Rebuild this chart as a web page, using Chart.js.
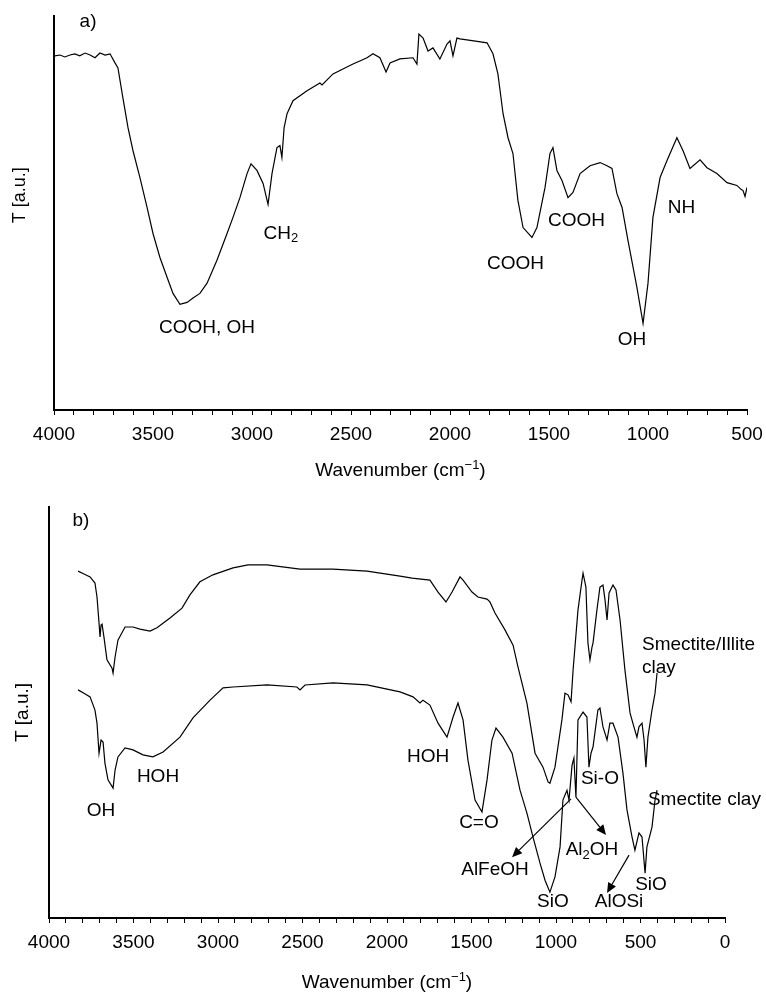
<!DOCTYPE html>
<html lang="en">
<head>
<meta charset="UTF-8">
<title>FTIR spectra</title>
<script src="https://cdn.jsdelivr.net/npm/chart.js@4.4.1/dist/chart.umd.min.js"></script>
<style>
    body { margin: 0; background: #fff; }
    .box { position: relative; width: 766px; }
    #boxA { height: 480px; }
    #boxB { height: 515px; }
</style>
</head>
<body>
<div class="box" id="boxA"><canvas id="chartA"></canvas></div>
<div class="box" id="boxB"><canvas id="chartB"></canvas></div>
<script>
// ---- panel a) ----
var aWavenumber = [3995, 3970, 3945, 3919, 3895, 3870, 3843, 3818, 3793, 3768,
    3742, 3717, 3692, 3677, 3652, 3626, 3601, 3566, 3530, 3500,
    3465, 3429, 3399, 3364, 3328, 3298, 3263, 3227, 3177, 3126,
    3096, 3061, 3025, 3005, 2975, 2944, 2919, 2899, 2874, 2859,
    2849, 2838, 2823, 2793, 2722, 2657, 2646, 2591, 2490, 2419,
    2389, 2354, 2323, 2303, 2253, 2187, 2167, 2157, 2136, 2111,
    2086, 2051, 2015, 2000, 1985, 1965, 1950, 1880, 1813, 1783,
    1758, 1732, 1707, 1682, 1657, 1631, 1586, 1561, 1520, 1495,
    1480, 1460, 1434, 1404, 1379, 1343, 1293, 1242, 1207, 1182,
    1157, 1131, 1101, 1056, 1025, 1000, 975, 939, 904, 854,
    823, 788, 737, 702, 652, 601, 551, 530, 520, 510,
    500];
var aTransmittance = [89.9, 90.1, 89.6, 90.1, 90.4, 89.9, 90.6, 90.1, 89.4, 90.6,
    90.1, 90.4, 88.1, 86.8, 79.2, 71.6, 65.8, 59.0, 51.4, 44.8,
    38.7, 33.7, 29.6, 26.8, 27.3, 28.4, 29.6, 32.2, 38.0, 44.8,
    48.9, 53.9, 60.0, 62.5, 60.8, 57.5, 52.2, 60.0, 66.6, 67.1,
    64.1, 71.6, 75.2, 78.5, 81.0, 83.0, 82.5, 85.3, 87.8, 89.4,
    90.4, 89.4, 85.8, 88.1, 89.1, 89.4, 87.8, 95.4, 94.4, 91.1,
    91.9, 89.1, 92.9, 93.7, 89.9, 94.4, 94.2, 93.7, 93.2, 90.4,
    85.3, 75.2, 69.1, 65.1, 53.2, 46.3, 43.8, 46.3, 56.5, 65.1,
    66.6, 60.8, 58.2, 53.9, 55.2, 60.0, 62.0, 62.8, 62.0, 61.3,
    54.9, 51.4, 43.0, 31.1, 22.0, 32.2, 48.9, 59.0, 63.3, 69.1,
    65.8, 61.3, 63.5, 61.5, 60.0, 57.7, 57.0, 56.0, 55.7, 54.2,
    56.5];

// ---- panel b) ----
var bUpperWn = [3828, 3793, 3757, 3728, 3716, 3704, 3698, 3692, 3686, 3675,
    3657, 3627, 3621, 3609, 3592, 3550, 3503, 3462, 3402, 3361,
    3284, 3213, 3166, 3107, 3030, 2911, 2822, 2710, 2515, 2320,
    2118, 1923, 1852, 1746, 1698, 1651, 1615, 1568, 1550, 1497,
    1462, 1408, 1391, 1361, 1302, 1254, 1225, 1172, 1124, 1077,
    1047, 1036, 1006, 965, 947, 929, 911, 899, 870, 846,
    840, 823, 811, 799, 787, 781, 758, 740, 722, 710,
    698, 686, 663, 645, 621, 592, 562, 539, 521, 509,
    491, 479, 468, 456, 432, 414, 402];
var bUpperT = [84.4, 83.7, 83.0, 81.5, 78.1, 71.8, 68.4, 71.3, 71.5, 68.4,
    62.8, 60.8, 59.6, 63.5, 67.6, 70.8, 70.8, 70.3, 69.8, 70.6,
    73.0, 75.4, 78.6, 81.8, 83.5, 85.2, 85.9, 85.9, 84.9, 84.9,
    84.4, 83.2, 82.7, 82.2, 79.3, 76.9, 79.3, 83.0, 82.2, 79.3,
    78.1, 77.6, 76.9, 74.2, 70.1, 66.4, 61.1, 52.3, 40.1, 36.7,
    33.1, 32.8, 36.7, 48.2, 54.7, 54.3, 52.6, 60.3, 74.9, 82.2,
    83.9, 80.5, 66.9, 62.8, 65.9, 66.9, 74.9, 80.5, 81.0, 77.4,
    72.5, 79.1, 81.0, 79.8, 72.5, 60.3, 49.9, 46.5, 44.0, 46.5,
    47.4, 43.3, 36.7, 44.0, 50.6, 54.7, 59.6];
var bLowerWn = [3828, 3793, 3757, 3728, 3716, 3704, 3692, 3680, 3669, 3651,
    3621, 3609, 3592, 3550, 3503, 3444, 3385, 3325, 3225, 3148,
    3047, 2970, 2911, 2710, 2533, 2515, 2485, 2320, 2118, 1923,
    1846, 1805, 1787, 1746, 1698, 1645, 1609, 1580, 1550, 1521,
    1479, 1438, 1408, 1379, 1355, 1314, 1260, 1213, 1172, 1136,
    1095, 1065, 1036, 1006, 976, 959, 935, 923, 905, 894,
    882, 870, 840, 817, 805, 793, 781, 752, 740, 722,
    698, 681, 663, 633, 604, 580, 550, 533, 509, 491,
    473, 462, 432, 414, 402];
var bLowerT = [55.5, 54.7, 53.8, 50.6, 47.4, 40.1, 43.3, 42.8, 37.7, 33.6,
    31.6, 36.0, 39.2, 41.4, 40.9, 39.7, 39.2, 40.4, 44.0, 48.7,
    53.0, 56.0, 56.2, 56.7, 56.2, 55.5, 56.7, 57.2, 56.7, 55.0,
    53.8, 52.3, 53.0, 51.8, 47.4, 44.0, 48.9, 52.3, 48.2, 38.4,
    28.7, 25.8, 33.6, 43.3, 46.2, 44.0, 40.1, 31.1, 25.5, 19.7,
    13.4, 9.2, 6.3, 10.0, 17.3, 28.7, 31.1, 28.7, 37.2, 38.9,
    29.4, 48.2, 50.1, 48.9, 36.7, 40.1, 41.6, 50.6, 51.1, 46.5,
    43.3, 47.4, 47.4, 44.0, 35.3, 26.3, 19.7, 16.5, 20.7, 19.7,
    10.9, 17.3, 22.1, 28.7, 31.1];

// peak labels, placed at (wavenumber, T)
var aLabels = [
    {text: 'a)', wn: 3828, t: 98.5},
    {text: 'COOH, OH', wn: 3227, t: 20.8},
    {text: 'CH_2', wn: 2854, t: 44.8},
    {text: 'COOH', wn: 1669, t: 37.0},
    {text: 'COOH', wn: 1361, t: 48.1},
    {text: 'NH', wn: 831, t: 51.4},
    {text: 'OH', wn: 1081, t: 17.7}
];
var bLabels = [
    {text: 'b)', wn: 3811, t: 96.6},
    {text: 'OH', wn: 3692, t: 26.0},
    {text: 'HOH', wn: 3355, t: 34.3},
    {text: 'HOH', wn: 1757, t: 39.2},
    {text: 'C=O', wn: 1456, t: 23.1},
    {text: 'AlFeOH', wn: 1361, t: 11.7},
    {text: 'SiO', wn: 1018, t: 3.9},
    {text: 'Si-O', wn: 740, t: 33.8},
    {text: 'Al_2OH', wn: 787, t: 16.5},
    {text: 'AlOSi', wn: 627, t: 3.9},
    {text: 'SiO', wn: 438, t: 8.0},
    {text: 'Smectite/Illite', wn: 491, t: 66.4, align: 'left'},
    {text: 'clay', wn: 491, t: 61.0, align: 'left'},
    {text: 'Smectite clay', wn: 456, t: 28.7, align: 'left'}
];
// arrows: [fromWn, fromT, toWn, toT]
var bArrows = [
    [911, 29.0, 1260, 14.8],
    [882, 29.4, 704, 20.2],
    [568, 15.3, 698, 6.1]
];

var FONT = '"Liberation Sans", Arial, sans-serif';
var xTitle = [{t: 'Wavenumber (cm'}, {t: '\u22121', sup: true}, {t: ')'}];

// turn 'Al_2OH' into segments with subscripts
function parseText(s) {
    var segs = [], buf = '';
    for (var i = 0; i < s.length; i++) {
        if (s[i] === '_' && i + 1 < s.length) {
            if (buf) segs.push({t: buf});
            segs.push({t: s[i + 1], sub: true});
            buf = '';
            i++;
        } else {
            buf += s[i];
        }
    }
    if (buf) segs.push({t: buf});
    return segs;
}

function drawRich(ctx, segs, x, y, align) {
    var total = 0;
    segs.forEach(function(s) {
        ctx.font = (s.sub || s.sup ? 13 : 19) + 'px ' + FONT;
        s.w = ctx.measureText(s.t).width;
        total += s.w;
    });
    var cx = align === 'left' ? x : x - total / 2;
    ctx.textAlign = 'left';
    ctx.textBaseline = 'middle';
    segs.forEach(function(s) {
        ctx.font = (s.sub || s.sup ? 13 : 19) + 'px ' + FONT;
        var dy = s.sub ? 5 : (s.sup ? -6 : 0);
        ctx.fillText(s.t, cx, y + dy);
        cx += s.w;
    });
}

function drawArrow(ctx, x1, y1, x2, y2) {
    var ang = Math.atan2(y2 - y1, x2 - x1);
    var len = 10, half = 4.5;
    var bx = x2 - len * Math.cos(ang), by = y2 - len * Math.sin(ang);
    ctx.beginPath();
    ctx.moveTo(x1, y1);
    ctx.lineTo(bx, by);
    ctx.stroke();
    ctx.beginPath();
    ctx.moveTo(x2, y2);
    ctx.lineTo(bx - half * Math.sin(ang), by + half * Math.cos(ang));
    ctx.lineTo(bx + half * Math.sin(ang), by - half * Math.cos(ang));
    ctx.closePath();
    ctx.fill();
}

var annotate = {
    id: 'annotate',
    afterDraw: function(chart, args, opts) {
        var ctx = chart.ctx, xs = chart.scales.x, ys = chart.scales.y, area = chart.chartArea;
        ctx.save();
        ctx.fillStyle = '#000';
        ctx.strokeStyle = '#000';
        ctx.lineWidth = 1.2;
        (opts.labels || []).forEach(function(l) {
            drawRich(ctx, parseText(l.text), xs.getPixelForValue(l.wn), ys.getPixelForValue(l.t), l.align);
        });
        (opts.arrows || []).forEach(function(a) {
            drawArrow(ctx, xs.getPixelForValue(a[0]), ys.getPixelForValue(a[1]),
                xs.getPixelForValue(a[2]), ys.getPixelForValue(a[3]));
        });
        drawRich(ctx, xTitle, (area.left + area.right) / 2, area.bottom + opts.titleGap, 'center');
        // vertical axis title
        ctx.translate(opts.yTitleX, area.top + (area.bottom - area.top) * opts.yTitlePos);
        ctx.rotate(-Math.PI / 2);
        ctx.font = opts.yTitleSize + 'px ' + FONT;
        ctx.textAlign = 'center';
        ctx.textBaseline = 'middle';
        ctx.fillText('T [a.u.]', 0, 0);
        ctx.restore();
    }
};

function toPoints(xs, ys) {
    return xs.map(function(w, i) { return {x: w, y: ys[i]}; });
}

function makeChart(id, series, cfg) {
    return new Chart(document.getElementById(id), {
        type: 'line',
        data: {
            datasets: series.map(function(d) {
                return {
                    data: d,
                    borderColor: '#000',
                    borderWidth: 1.2,
                    pointRadius: 0,
                    fill: false,
                    tension: 0
                };
            })
        },
        options: {
            responsive: true,
            maintainAspectRatio: false,
            animation: false,
            layout: {padding: {top: cfg.top, right: cfg.right, bottom: 0, left: 0}},
            plugins: {
                legend: {display: false},
                tooltip: {enabled: false},
                annotate: {
                    labels: cfg.labels, arrows: cfg.arrows, titleGap: cfg.titleGap,
                    yTitleX: cfg.yTitleX, yTitlePos: cfg.yTitlePos, yTitleSize: cfg.yTitleSize
                }
            },
            scales: {
                x: {
                    type: 'linear',
                    reverse: true,
                    min: cfg.min,
                    max: 4000,
                    afterFit: function(s) {
                        s.height = cfg.xHeight;
                        s.paddingLeft = 0;
                        s.paddingRight = 0;
                    },
                    grid: {display: true, drawOnChartArea: false, drawTicks: true, tickLength: 5, color: '#000', lineWidth: 1},
                    border: {display: true, color: '#000', width: 2},
                    ticks: {
                        stepSize: 100,
                        autoSkip: false,
                        maxRotation: 0,
                        padding: 8,
                        color: '#000',
                        font: {family: FONT, size: 19},
                        callback: function(v) { return v % 500 === 0 ? String(v) : ''; }
                    }
                },
                y: {
                    min: 0,
                    max: 100,
                    afterFit: function(s) { s.width = cfg.left; },
                    grid: {display: false},
                    border: {display: true, color: '#000', width: 2},
                    ticks: {display: false}
                }
            }
        },
        plugins: [annotate]
    });
}

makeChart('chartA', [toPoints(aWavenumber, aTransmittance)], {
    min: 500, top: 16, right: 19, left: 54, xHeight: 70, titleGap: 61,
    yTitleX: 20, yTitlePos: 0.455, yTitleSize: 18, labels: aLabels, arrows: []
});
makeChart('chartB', [toPoints(bUpperWn, bUpperT), toPoints(bLowerWn, bLowerT)], {
    min: 0, top: 27, right: 41, left: 49, xHeight: 77, titleGap: 65,
    yTitleX: 23, yTitlePos: 0.5, yTitleSize: 19, labels: bLabels, arrows: bArrows
});
</script>
</body>
</html>
